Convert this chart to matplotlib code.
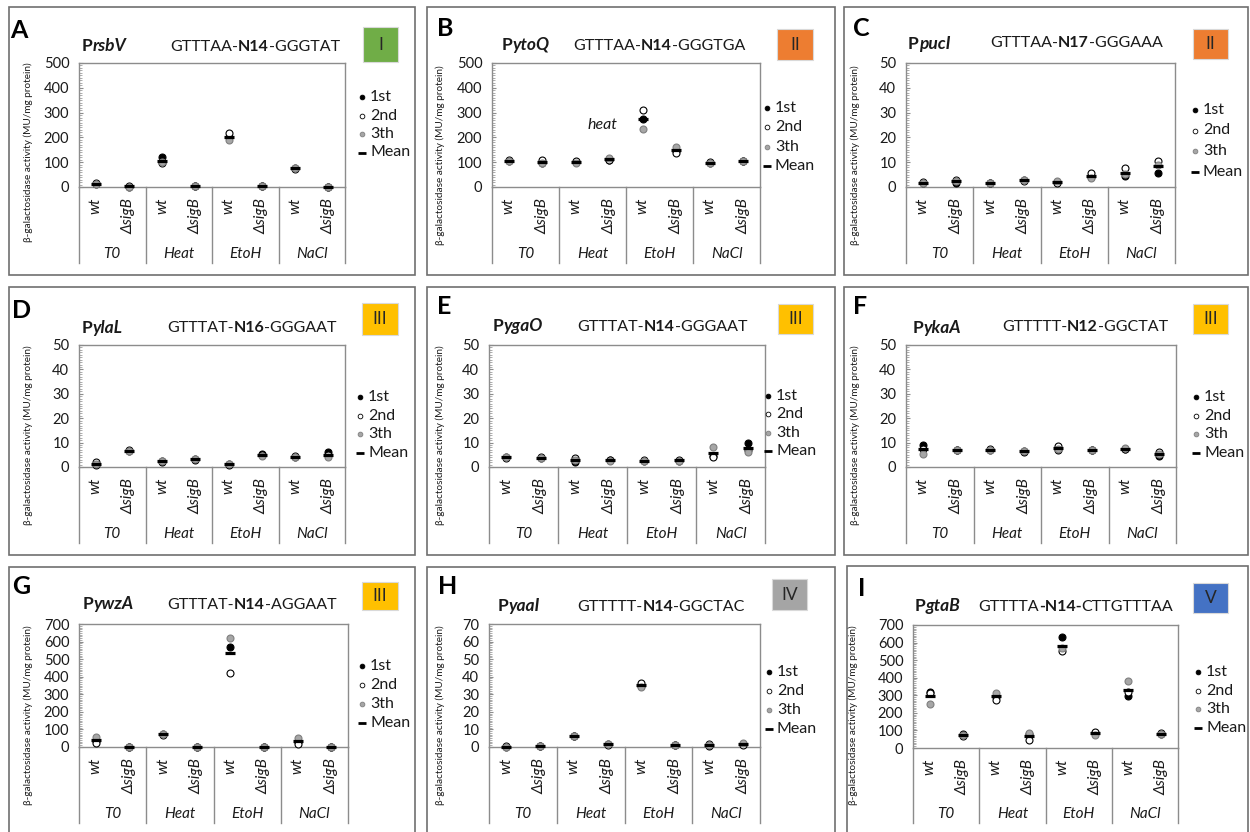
import numpy as np
import matplotlib
matplotlib.use('Agg')
import matplotlib.pyplot as plt
from matplotlib.ticker import MultipleLocator
from matplotlib.patches import Rectangle
from matplotlib.lines import Line2D
import matplotlib.transforms as mtransforms

plt.rcParams['font.family'] = ['Lato', 'DejaVu Sans']

W, H = 1250, 832

# ---------------- data ----------------
conditions = ['T0', 'Heat', 'EtoH', 'NaCl']
strains = ['wt', 'ΔsigB']
replicate_labels = ['1st', '2nd', '3th', 'Mean']
ylabel = 'β-galactosidase activity (MU/mg protein)'

# order: T0 wt, T0 ΔsigB, Heat wt, Heat ΔsigB, EtoH wt, EtoH ΔsigB, NaCl wt, NaCl ΔsigB
a_rep1 = [12, 2, 122, 3, 200, 4, 75, 1]
a_rep2 = [16, 3, 95, 3, 218, 4, 74, 1]
a_rep3 = [14, 2, 102, 3, 190, 3, 76, 1]

b_rep1 = [105, 98, 100, 110, 275, 145, 97, 104]
b_rep2 = [110, 108, 104, 107, 310, 138, 99, 106]
b_rep3 = [104, 97, 97, 118, 232, 162, 95, 103]

c_rep1 = [1.5, 1.5, 1.5, 2.7, 2.0, 4.0, 4.5, 5.5]
c_rep2 = [2.0, 3.0, 1.8, 2.5, 1.5, 5.5, 7.5, 10.5]
c_rep3 = [1.8, 2.5, 1.5, 2.8, 2.5, 3.5, 5.3, 9.0]

d_rep1 = [1.0, 6.5, 2.2, 3.0, 1.0, 5.5, 4.0, 6.0]
d_rep2 = [2.0, 6.8, 2.5, 3.2, 1.2, 5.0, 4.5, 5.0]
d_rep3 = [1.2, 6.6, 2.3, 3.1, 1.1, 4.5, 4.0, 4.0]

e_rep1 = [4.0, 3.8, 2.0, 2.7, 2.5, 2.6, 4.6, 10.0]
e_rep2 = [3.8, 4.0, 3.5, 2.8, 3.0, 3.0, 4.0, 7.0]
e_rep3 = [4.2, 3.7, 2.8, 2.6, 2.4, 2.5, 8.3, 6.0]

f_rep1 = [9.0, 7.0, 7.0, 6.2, 7.0, 6.8, 7.2, 4.5]
f_rep2 = [7.5, 6.8, 7.3, 6.5, 8.5, 7.0, 7.5, 6.0]
f_rep3 = [5.5, 6.9, 7.1, 6.6, 7.5, 6.9, 7.8, 5.5]

g_rep1 = [35, 1, 72, 1, 570, 1, 30, 1]
g_rep2 = [25, 1, 68, 1, 420, 1, 15, 1]
g_rep3 = [55, 1, 75, 1, 620, 1, 50, 1]

h_rep1 = [0.2, 0.5, 6.0, 1.5, 35.0, 1.2, 0.8, 1.5]
h_rep2 = [0.3, 0.6, 6.5, 1.2, 36.5, 1.0, 1.5, 1.2]
h_rep3 = [0.2, 0.4, 6.2, 1.6, 34.0, 1.1, 1.2, 2.0]

i_rep1 = [320, 80, 290, 80, 630, 85, 295, 80]
i_rep2 = [313, 70, 275, 45, 550, 90, 320, 85]
i_rep3 = [250, 75, 315, 85, 570, 75, 380, 82]

panel_letters = ['A', 'B', 'C', 'D', 'E', 'F', 'G', 'H', 'I']
genes = ['rsbV', 'ytoQ', 'pucI', 'ylaL', 'ygaO', 'ykaA', 'ywzA', 'yaaI', 'gtaB']
seq_left = ['GTTTAA-', 'GTTTAA-', 'GTTTAA-', 'GTTTAT-', 'GTTTAT-', 'GTTTTT-', 'GTTTAT-', 'GTTTTT-', 'GTTTTA']
seq_mid = ['N14', 'N14', 'N17', 'N16', 'N14', 'N12', 'N14', 'N14', '-N14-']
seq_right = ['-GGGTAT', '-GGGTGA', '-GGGAAA', '-GGGAAT', '-GGGAAT', '-GGCTAT', '-AGGAAT', '-GGCTAC', 'CTTGTTTAA']
classes = ['I', 'II', 'II', 'III', 'III', 'III', 'III', 'IV', 'V']
class_colors = ['#70AD47', '#ED7D31', '#ED7D31', '#FFC000', '#FFC000', '#FFC000', '#FFC000', '#A5A5A5', '#4472C4']
y_max = [500, 500, 50, 50, 50, 50, 700, 70, 700]
y_step = [100, 100, 10, 10, 10, 10, 100, 10, 100]
replicates = [
    (a_rep1, a_rep2, a_rep3), (b_rep1, b_rep2, b_rep3), (c_rep1, c_rep2, c_rep3),
    (d_rep1, d_rep2, d_rep3), (e_rep1, e_rep2, e_rep3), (f_rep1, f_rep2, f_rep3),
    (g_rep1, g_rep2, g_rep3), (h_rep1, h_rep2, h_rep3), (i_rep1, i_rep2, i_rep3),
]
annotation_text = 'heat'
annotation_xy = (2.8, 250)

# ---------------- layout (pixels) ----------------
layout = [
    dict(box=(9, 7, 415, 275), ax=(79, 63, 345, 187), cat=263, letter=(10, 31), prom=(82, 45), seq=(170, 45), cls=(363, 27, 398, 62), leg=(362, 97, 18.5), ylab=(28, 152)),
    dict(box=(427, 7, 835, 275), ax=(492, 63, 760, 187), cat=263, letter=(437, 28), prom=(502, 44), seq=(573, 44), cls=(777, 29, 813, 60), leg=(767, 108, 19.3), ylab=(440, 155)),
    dict(box=(844, 7, 1248, 275), ax=(906, 63, 1175, 187), cat=263, letter=(853, 28), prom=(908, 43), seq=(990, 41), cls=(1193, 29, 1228, 59), leg=(1195, 110, 20.5), ylab=(855, 155)),
    dict(box=(9, 287, 415, 555), ax=(79, 345, 345, 467), cat=543, letter=(12, 310), prom=(82, 327), seq=(167, 326), cls=(362, 303, 398, 335), leg=(360, 397, 18.7), ylab=(28, 435)),
    dict(box=(427, 287, 835, 555), ax=(489, 345, 765, 467), cat=543, letter=(437, 307), prom=(493, 325), seq=(577, 325), cls=(778, 304, 813, 334), leg=(768, 396, 18.3), ylab=(440, 435)),
    dict(box=(844, 287, 1248, 555), ax=(906, 345, 1176, 467), cat=543, letter=(853, 307), prom=(913, 327), seq=(1002, 325), cls=(1193, 304, 1228, 334), leg=(1196, 397, 18.7), ylab=(855, 435)),
    dict(box=(9, 567, 415, 845), ax=(79, 624, 348, 747), cat=823, letter=(12, 587), prom=(83, 603), seq=(167, 603), cls=(362, 582, 398, 610), leg=(362, 666, 19), ylab=(28, 715)),
    dict(box=(427, 567, 835, 845), ax=(489, 624, 760, 747), cat=823, letter=(438, 586), prom=(498, 605), seq=(577, 605), cls=(772, 579, 807, 610), leg=(769, 672, 19), ylab=(440, 715)),
    dict(box=(847, 566, 1248, 845), ax=(913, 625, 1178, 748), cat=823, letter=(858, 589), prom=(915, 605), seq=(978, 605), cls=(1193, 583, 1228, 613), leg=(1198, 672, 18.7), ylab=(853, 715)),
]

GRAY = '#8c8c8c'
TXT = '#1a1a1a'

def fx(x):
    return x / W

def fy(y):
    return 1 - y / H

fig = plt.figure(figsize=(W / 100, H / 100), dpi=100)
fig.patch.set_facecolor('white')
renderer = fig.canvas.get_renderer()

marker_styles = [
    dict(marker='o', mfc='black', mec='black', mew=0.8, ms=5.0),
    dict(marker='o', mfc='white', mec='black', mew=0.8, ms=5.0),
    dict(marker='o', mfc='#a6a6a6', mec='#7f7f7f', mew=0.8, ms=5.0),
]
mean_style = dict(marker='_', color='black', mew=2.3, ms=7.8)

legend_styles = [
    dict(marker='o', mfc='black', mec='black', mew=0.6, ms=3.4),
    dict(marker='o', mfc='white', mec='black', mew=0.6, ms=3.4),
    dict(marker='o', mfc='#a6a6a6', mec='#7f7f7f', mew=0.6, ms=3.4),
    dict(marker='_', color='black', mew=2.0, ms=5.8),
]


def place_runs(x_px, y_px, runs, size):
    x = x_px
    base = y_px + 0.36 * size * 100 / 72
    for txt, weight, style in runs:
        t = fig.text(fx(x), fy(base), txt, fontsize=size, fontweight=weight,
                     fontstyle=style, ha='left', va='baseline', color=TXT)
        x += t.get_window_extent(renderer).width


for k in range(9):
    L = layout[k]
    # panel frame
    bx0, by0, bx1, by1 = L['box']
    fig.patches.append(Rectangle((fx(bx0), fy(by1)), fx(bx1 - bx0), (by1 - by0) / H,
                                 transform=fig.transFigure, fill=False, ec='#6f6f6f', lw=1.2))
    # axes
    ax0, ay0, ax1, ay1 = L['ax']
    ax = fig.add_axes([fx(ax0), fy(ay1), fx(ax1 - ax0), (ay1 - ay0) / H])
    ax.set_xlim(-0.5, 7.5)
    ax.set_ylim(0, y_max[k])
    for s in ax.spines.values():
        s.set_color(GRAY)
        s.set_linewidth(1.0)
    ax.yaxis.set_major_locator(MultipleLocator(y_step[k]))
    ax.yaxis.set_minor_locator(MultipleLocator(y_step[k] / 10))
    ax.tick_params(axis='y', which='major', direction='in', length=3, width=0.8, color=GRAY,
                   labelsize=10.5, labelcolor=TXT, pad=7)
    ax.tick_params(axis='y', which='minor', direction='in', length=1.8, width=0.5, color=GRAY)
    xs = np.arange(8)
    ax.set_xticks(xs)
    ax.set_xticklabels(strains * 4, rotation=90, fontstyle='italic', fontsize=11, color=TXT)
    ax.tick_params(axis='x', length=0, pad=8)

    # category separator lines below axis
    depth = -(L['cat'] - ay1) / (ay1 - ay0)
    trans = mtransforms.blended_transform_factory(ax.transData, ax.transAxes)
    for xb in [-0.5, 1.5, 3.5, 5.5, 7.5]:
        ax.plot([xb, xb], [0, depth], transform=trans, color=GRAY, lw=1.0, clip_on=False)
    glab_y = -(L['cat'] - 9 - ay1) / (ay1 - ay0)
    for gi, cond in enumerate(conditions):
        ax.text(2 * gi + 0.5, glab_y, cond, transform=trans, ha='center', va='center',
                fontstyle='italic', fontsize=11, color=TXT)

    reps = replicates[k]
    for r, st in zip(reps, marker_styles):
        ax.plot(xs, r, ls='none', clip_on=False, zorder=3, **st)
    means = np.mean(np.array(reps, dtype=float), axis=0)
    ax.plot(xs, means, ls='none', clip_on=False, zorder=4, **mean_style)

    if k == 1:
        ax.text(annotation_xy[0], annotation_xy[1], annotation_text, fontstyle='italic',
                fontsize=11.5, ha='center', va='center', color=TXT)

    # y label
    fig.text(fx(L['ylab'][0]), fy(L['ylab'][1]), ylabel, rotation=90, fontsize=7.2,
             ha='center', va='center', color=TXT)

    # panel letter
    fig.text(fx(L['letter'][0]), fy(L['letter'][1]), panel_letters[k], fontsize=18,
             fontweight='bold', ha='left', va='center', color='black')

    # promoter name
    place_runs(L['prom'][0], L['prom'][1],
               [('P', 'bold', 'normal'), (genes[k], 'bold', 'italic')], 12.5)
    # sequence
    place_runs(L['seq'][0], L['seq'][1],
               [(seq_left[k], 'normal', 'normal'), (seq_mid[k], 'bold', 'normal'),
                (seq_right[k], 'normal', 'normal')], 11.5)

    # class box
    cx0, cy0, cx1, cy1 = L['cls']
    fig.patches.append(Rectangle((fx(cx0), fy(cy1)), fx(cx1 - cx0), (cy1 - cy0) / H,
                                 transform=fig.transFigure, fc=class_colors[k], ec='#d9d9d9', lw=0.8))
    fig.text(fx((cx0 + cx1) / 2), fy((cy0 + cy1) / 2), classes[k], fontsize=12.5,
             ha='center', va='center', color='#262626')

    # legend
    lx, ly, lsp = L['leg']
    for j, lab in enumerate(replicate_labels):
        yy = ly + j * lsp
        fig.lines.append(Line2D([fx(lx)], [fy(yy)], transform=fig.transFigure, ls='none',
                                **legend_styles[j]))
        fig.text(fx(lx + 8), fy(yy), lab, fontsize=11.5, ha='left', va='center', color=TXT)

fig.savefig('out.png', dpi=100, facecolor='white')
